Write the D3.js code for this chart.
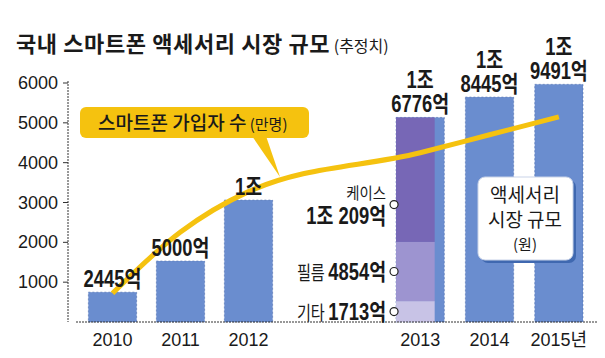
<!DOCTYPE html>
<html><head><meta charset="utf-8">
<script src="https://cdn.jsdelivr.net/npm/d3@7"></script>
<style>
body{margin:0;background:#fff;}
text{font-family:"Liberation Sans","Noto Sans CJK KR",sans-serif;fill:#1a1a1a;}
.kr{font-family:"Noto Sans CJK KR","Liberation Sans",sans-serif;}
</style></head>
<body>
<svg id="chart" width="605" height="358"></svg>
<script>
// ---- data ----
const years = ["2010","2011","2012","2013","2014","2015"];
const xTickLabels = ["2010","2011","2012","2013","2014","2015년"];
const marketSize = [2445, 5000, 10000, 16776, 18445, 19491];          // 억원
const marketLabels = [["2445억"],["5000억"],["1조"],["1조","6776억"],["1조","8445억"],["1조","9491억"]];
const subscribers = [720, 2258, 3273, 4250, 4700, 5150];              // 만명
const yTicks = [1000, 2000, 3000, 4000, 5000, 6000];
const seg2013Names = ["기타","필름","케이스"];
const seg2013Values = [1713, 4854, 10209];
const seg2013Labels = ["1713억","4854억","1조 209억"];
const leftYears = ["2010","2011","2012"];
const rightYears = ["2013","2014","2015"];

const svg = d3.select("#chart");
const BASE = 322, TOP = 83;

const yAxisScale = d3.scaleLinear().domain([0, 6000]).range([BASE, TOP]);
const yBar = d3.scaleLinear().domain([0, 19600]).range([BASE, TOP]);
const xLeft = d3.scaleBand().domain(leftYears).range([78.5, 282.5]).paddingInner(0.29).paddingOuter(0.145);
const xRight = d3.scaleBand().domain(rightYears).range([386, 594]).paddingInner(0.29).paddingOuter(0.145);
const xB = y => leftYears.includes(y) ? xLeft(y) : xRight(y);
const bw = xLeft.bandwidth();
const xC = y => xB(y) + bw / 2;

// title
const title = svg.append("text").attr("x", 16).attr("y", 52).attr("class","kr");
title.append("tspan").text("국내 스마트폰 액세서리 시장 규모")
  .style("font-size","22px").style("font-weight","bold").style("letter-spacing","0.6px");
title.append("tspan").text(" (추정치)").style("font-size","16px");

// bars
const barColor = "#6a8dcf";
svg.append("g").selectAll("rect").data(years).join("rect")
  .attr("x", d => xB(d)).attr("width", bw)
  .attr("y", (d,i) => yBar(marketSize[i])).attr("height", (d,i) => BASE - yBar(marketSize[i]))
  .attr("fill", barColor).attr("stroke","#4f6fae").attr("stroke-width",0.6).attr("stroke-dasharray","2,2");

// 2013 stacked overlay
const segColors = ["#c8c3e6","#9d94d0","#7767b6"];
let acc = 0;
const segs = seg2013Values.map((v,i) => { const s = {i, v, y0: acc, y1: acc + v}; acc += v; return s; });
const segW = bw * 0.8;
svg.append("g").selectAll("rect").data(segs).join("rect")
  .attr("x", xB("2013")).attr("width", segW)
  .attr("y", d => yBar(d.y1)).attr("height", d => yBar(d.y0) - yBar(d.y1))
  .attr("fill", d => segColors[d.i]);

// axes
const yAxisX = 68;
svg.append("line").attr("x1", yAxisX).attr("x2", yAxisX).attr("y1", TOP - 2).attr("y2", BASE)
  .attr("stroke","#333").attr("stroke-width",1).attr("stroke-dasharray","2,1");
svg.append("g").selectAll("line").data(yTicks).join("line")
  .attr("x1", yAxisX - 5).attr("x2", yAxisX).attr("y1", d => yAxisScale(d)).attr("y2", d => yAxisScale(d))
  .attr("stroke","#333").attr("stroke-width",1);
svg.append("g").selectAll("text").data(yTicks).join("text")
  .attr("x", 58).attr("y", d => yAxisScale(d) + 6).attr("text-anchor","end")
  .style("font-size","18px").text(d => d);
svg.append("line").attr("x1", 76).attr("x2", 598).attr("y1", BASE).attr("y2", BASE)
  .attr("stroke","#333").attr("stroke-width",1.2).attr("stroke-dasharray","2,1");
svg.append("g").selectAll("text").data(years).join("text")
  .attr("x", d => xC(d)).attr("y", 346).attr("text-anchor","middle")
  .style("font-size","18px").text((d,i) => xTickLabels[i]);

// subscriber line
const line = d3.line().x((d,i) => xC(years[i])).y(d => yAxisScale(d)).curve(d3.curveMonotoneX);
svg.append("path").datum(subscribers).attr("d", line)
  .attr("fill","none").attr("stroke","#f5c20f").attr("stroke-width",5).attr("stroke-linecap","butt");

// bar value labels (condensed bold)
const lbl = svg.append("g").selectAll("g").data(years).join("g")
  .attr("transform", (d,i) => `translate(${xC(d)},${yBar(marketSize[i]) - 5}) scale(0.8,1)`);
lbl.each(function(d,i){
  const L = marketLabels[i];
  d3.select(this).selectAll("text").data(L).join("text")
    .attr("x", 0).attr("y", (t,j) => -(L.length - 1 - j) * 24)
    .attr("text-anchor","middle").style("font-size","23px").style("font-weight","bold").text(t => t);
});

// segment labels for 2013
const segLabelFrac = [0.5, 0.5, 0.3];
const segLab = svg.append("g").selectAll("g").data(segs).join("g");
segLab.append("circle")
  .attr("cx", xB("2013") - 2).attr("cy", d => yBar(d.y0 + d.v * segLabelFrac[d.i]))
  .attr("r", 4).attr("fill","#fff").attr("stroke","#222").attr("stroke-width",1.2);
segLab.each(function(d){
  const cy = yBar(d.y0 + d.v * segLabelFrac[d.i]);
  const g = d3.select(this);
  if (d.i === 2) {
    g.append("text").attr("class","kr").attr("transform", `translate(${xB("2013") - 10},${cy - 6}) scale(0.9,1)`)
      .attr("text-anchor","end").style("font-size","16px").text(seg2013Names[d.i]);
    g.append("text").attr("transform", `translate(${xB("2013") - 10},${cy + 19}) scale(0.8,1)`)
      .attr("text-anchor","end").style("font-size","23px").style("font-weight","bold").text(seg2013Labels[d.i]);
  } else {
    const t = g.append("text").attr("transform", `translate(${xB("2013") - 10},${cy + 8}) scale(0.8,1)`)
      .attr("text-anchor","end");
    t.append("tspan").attr("class","kr").style("font-size","19px").text(seg2013Names[d.i] + " ");
    t.append("tspan").style("font-size","23px").style("font-weight","bold").text(seg2013Labels[d.i]);
  }
});

// callout for subscribers
const co = svg.append("g");
co.append("path").attr("d","M252,136 L266,136 L280,177 Z").attr("fill","#f5c20f");
co.append("rect").attr("x",80).attr("y",107).attr("width",229).attr("height",31).attr("rx",6)
  .attr("fill","#f5c20f");
const ct = co.append("text").attr("class","kr").attr("x", 98).attr("y", 130);
ct.append("tspan").text("스마트폰 가입자 수").style("font-size","19px").style("font-weight","500");
ct.append("tspan").text(" (만명)").style("font-size","15px");

// legend box for market size
const lb = svg.append("g");
lb.append("rect").attr("x",481).attr("y",180).attr("width",95).attr("height",83).attr("rx",7).attr("fill","#3f68b0");
lb.append("rect").attr("x",478).attr("y",177).attr("width",95).attr("height",83).attr("rx",7)
  .attr("fill","#fff").attr("stroke","#c9d3e8").attr("stroke-width",1);
const lt = lb.append("text").attr("class","kr").attr("text-anchor","middle");
lt.append("tspan").attr("x",525).attr("y",202).style("font-size","19px").text("액세서리");
lt.append("tspan").attr("x",525).attr("y",227).style("font-size","19px").text("시장 규모");
lt.append("tspan").attr("x",525).attr("y",250).style("font-size","15px").text("(원)");
</script>
</body></html>
